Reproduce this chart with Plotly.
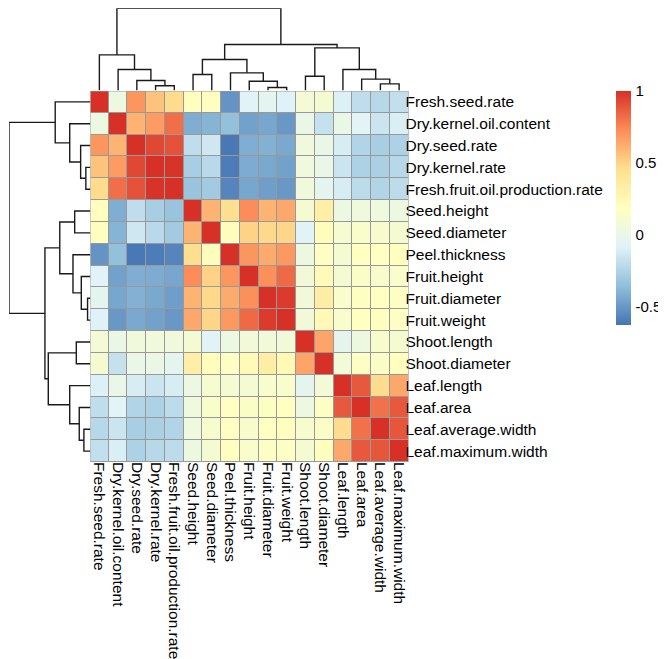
import plotly.graph_objects as go

labels = ["Fresh.seed.rate", "Dry.kernel.oil.content", "Dry.seed.rate", "Dry.kernel.rate",
          "Fresh.fruit.oil.production.rate", "Seed.height", "Seed.diameter", "Peel.thickness",
          "Fruit.height", "Fruit.diameter", "Fruit.weight", "Shoot.length", "Shoot.diameter",
          "Leaf.length", "Leaf.area", "Leaf.average.width", "Leaf.maximum.width"]

corr_values = [
    [1.00, 0.03, 0.70, 0.55, 0.47, 0.19, 0.19, -0.52, -0.08, -0.05, -0.09, 0.08, 0.10, -0.10, -0.20, -0.23, -0.19],
    [0.03, 1.00, 0.60, 0.68, 0.82, -0.42, -0.40, -0.35, -0.47, -0.45, -0.50, 0.00, -0.18, 0.00, -0.07, -0.16, -0.11],
    [0.70, 0.60, 1.00, 0.93, 0.90, -0.20, -0.15, -0.62, -0.42, -0.41, -0.44, 0.05, 0.00, -0.12, -0.25, -0.28, -0.26],
    [0.55, 0.68, 0.93, 1.00, 0.99, -0.28, -0.22, -0.60, -0.43, -0.44, -0.47, 0.05, 0.00, -0.16, -0.26, -0.27, -0.23],
    [0.47, 0.82, 0.90, 0.99, 1.00, -0.33, -0.30, -0.57, -0.45, -0.48, -0.50, 0.05, -0.05, -0.12, -0.21, -0.25, -0.21],
    [0.19, -0.42, -0.20, -0.28, -0.33, 1.00, 0.60, 0.46, 0.73, 0.60, 0.64, 0.10, 0.33, 0.02, 0.04, 0.04, 0.03],
    [0.19, -0.40, -0.15, -0.22, -0.30, 0.60, 1.00, 0.20, 0.50, 0.48, 0.49, -0.08, 0.20, 0.11, 0.13, 0.12, 0.10],
    [-0.52, -0.35, -0.62, -0.60, -0.57, 0.46, 0.20, 1.00, 0.70, 0.63, 0.69, 0.03, 0.16, 0.10, 0.18, 0.18, 0.19],
    [-0.08, -0.47, -0.42, -0.43, -0.45, 0.73, 0.50, 0.70, 1.00, 0.72, 0.83, 0.06, 0.23, 0.09, 0.15, 0.12, 0.13],
    [-0.05, -0.45, -0.41, -0.44, -0.48, 0.60, 0.48, 0.63, 0.72, 1.00, 0.97, 0.06, 0.34, 0.13, 0.17, 0.18, 0.16],
    [-0.09, -0.50, -0.44, -0.47, -0.50, 0.64, 0.49, 0.69, 0.83, 0.97, 1.00, 0.06, 0.24, 0.13, 0.18, 0.19, 0.16],
    [0.08, 0.00, 0.05, 0.05, 0.05, 0.10, -0.08, 0.03, 0.06, 0.06, 0.06, 1.00, 0.65, -0.04, 0.03, 0.12, 0.10],
    [0.10, -0.18, 0.00, 0.00, -0.05, 0.33, 0.20, 0.16, 0.23, 0.34, 0.24, 0.65, 1.00, 0.07, 0.16, 0.15, 0.19],
    [-0.10, 0.00, -0.12, -0.16, -0.12, 0.02, 0.11, 0.10, 0.09, 0.13, 0.13, -0.04, 0.07, 1.00, 0.88, 0.47, 0.64],
    [-0.20, -0.07, -0.25, -0.26, -0.21, 0.04, 0.13, 0.18, 0.15, 0.17, 0.18, 0.03, 0.16, 0.88, 1.00, 0.81, 0.88],
    [-0.23, -0.16, -0.28, -0.27, -0.25, 0.04, 0.12, 0.18, 0.12, 0.18, 0.19, 0.12, 0.15, 0.47, 0.81, 1.00, 0.89],
    [-0.19, -0.11, -0.26, -0.23, -0.21, 0.03, 0.10, 0.19, 0.13, 0.16, 0.16, 0.10, 0.19, 0.64, 0.88, 0.89, 1.00],
]

# Hierarchical clustering merges: (left child, right child, height); ints = leaf index, "cN" = merge N
merge_left = [3, 2, 1, 0, 9, 8, 7, 5, "c7", 15, 14, 13, 11, "c12", "c8", "c3"]
merge_right = [4, "c0", "c1", "c2", 10, "c4", "c5", 6, "c6", 16, "c9", "c10", 12, "c11", "c13", "c14"]
merge_height = [0.057, 0.121, 0.255, 0.433, 0.036, 0.113, 0.215, 0.194, 0.377,
                0.081, 0.138, 0.255, 0.174, 0.518, 0.559, 1.0]

colorbar_ticks = [-0.5, 0, 0.5, 1]
colorbar_ticktext = ["-0.5", "0", "0.5", "1"]
zmin, zmax = -0.63, 1.0

palette = ["#4575B4", "#91BFDB", "#E0F3F8", "#FFFFBF", "#FEE090", "#FC8D59", "#D73027"]
colorscale = [[i / (len(palette) - 1), c] for i, c in enumerate(palette)]

W, H = 666, 659
hm_x0, hm_x1 = 82, 400.5
hm_y0, hm_y1 = 83, 454
font_family = "Liberation Sans, Arial, sans-serif"
fs = 15.5


def px_x(p):
    return p / W


def px_y(p):
    return 1 - p / H


# Build dendrogram segments from merges
def dendro_segments():
    pos = {}
    hgt = {}
    xs, hs = [], []

    def get(node):
        if isinstance(node, int):
            return float(node), 0.0
        return pos[node], hgt[node]

    for i, (a, b, h) in enumerate(zip(merge_left, merge_right, merge_height)):
        pa, ha = get(a)
        pb, hb = get(b)
        xs += [pa, pa, pb, pb, None]
        hs += [ha, h, h, hb, None]
        pos["c%d" % i] = (pa + pb) / 2
        hgt["c%d" % i] = h
    return xs, hs


dx, dh = dendro_segments()
n = len(labels)
idx = list(range(n))

fig = go.Figure()
fig.add_trace(go.Heatmap(
    z=corr_values, x=idx, y=idx, colorscale=colorscale, zmin=zmin, zmax=zmax,
    xgap=1, ygap=1, xaxis="x", yaxis="y",
    colorbar=dict(
        x=px_x(608), xanchor="left", xpad=0,
        y=px_y(hm_y0), yanchor="top", ypad=0,
        len=234, lenmode="pixels", thickness=15, thicknessmode="pixels",
        outlinewidth=0, tickvals=colorbar_ticks, ticktext=colorbar_ticktext,
        ticks="outside", ticklen=2, tickcolor="rgba(0,0,0,0)",
        tickfont=dict(family=font_family, size=15, color="#000"),
    ),
))

line_style = dict(color="#1a1a1a", width=1.4)
fig.add_trace(go.Scatter(x=dx, y=dh, mode="lines", line=line_style, xaxis="x2", yaxis="y2",
                         showlegend=False, hoverinfo="skip"))
fig.add_trace(go.Scatter(x=dh, y=dx, mode="lines", line=line_style, xaxis="x3", yaxis="y3",
                         showlegend=False, hoverinfo="skip"))

hx = [px_x(hm_x0), px_x(hm_x1)]
hy = [px_y(hm_y1), px_y(hm_y0)]
rng = [-0.5, n - 0.5]

fig.update_layout(
    width=W, height=H, margin=dict(l=0, r=0, t=0, b=0),
    paper_bgcolor="white", plot_bgcolor="white", showlegend=False,
    font=dict(family=font_family, size=fs, color="#000"),
    xaxis=dict(domain=hx, range=rng, tickvals=idx, ticktext=labels, tickangle=90,
               showgrid=False, zeroline=False, ticks="", ticklabelstandoff=-1,
               tickfont=dict(family=font_family, size=fs, color="#000"), anchor="y"),
    yaxis=dict(domain=hy, range=[n - 0.5, -0.5], tickvals=idx, ticktext=labels, side="right",
               showgrid=False, zeroline=False, ticks="", ticklabelstandoff=-4,
               tickfont=dict(family=font_family, size=fs, color="#000"), anchor="x"),
    xaxis2=dict(domain=hx, range=rng, visible=False, anchor="y2"),
    yaxis2=dict(domain=[px_y(hm_y0 - 0.5), px_y(0.3)], range=[0, 1.0], visible=False, anchor="x2"),
    xaxis3=dict(domain=[px_x(1), px_x(hm_x0 + 0.5)], range=[1.0, 0], visible=False, anchor="y3"),
    yaxis3=dict(domain=hy, range=[n - 0.5, -0.5], visible=False, anchor="x3"),
    shapes=[
        dict(type="rect", xref="x", yref="y", x0=-0.5, x1=n - 0.5, y0=-0.5, y1=n - 0.5,
             fillcolor="#999999", line=dict(width=0), layer="below"),
        dict(type="rect", xref="x", yref="y", x0=-0.5, x1=n - 0.5, y0=-0.5, y1=n - 0.5,
             fillcolor="rgba(0,0,0,0)", line=dict(width=1, color="#999999"), layer="above"),
    ],
)

fig.write_html("out.html")
